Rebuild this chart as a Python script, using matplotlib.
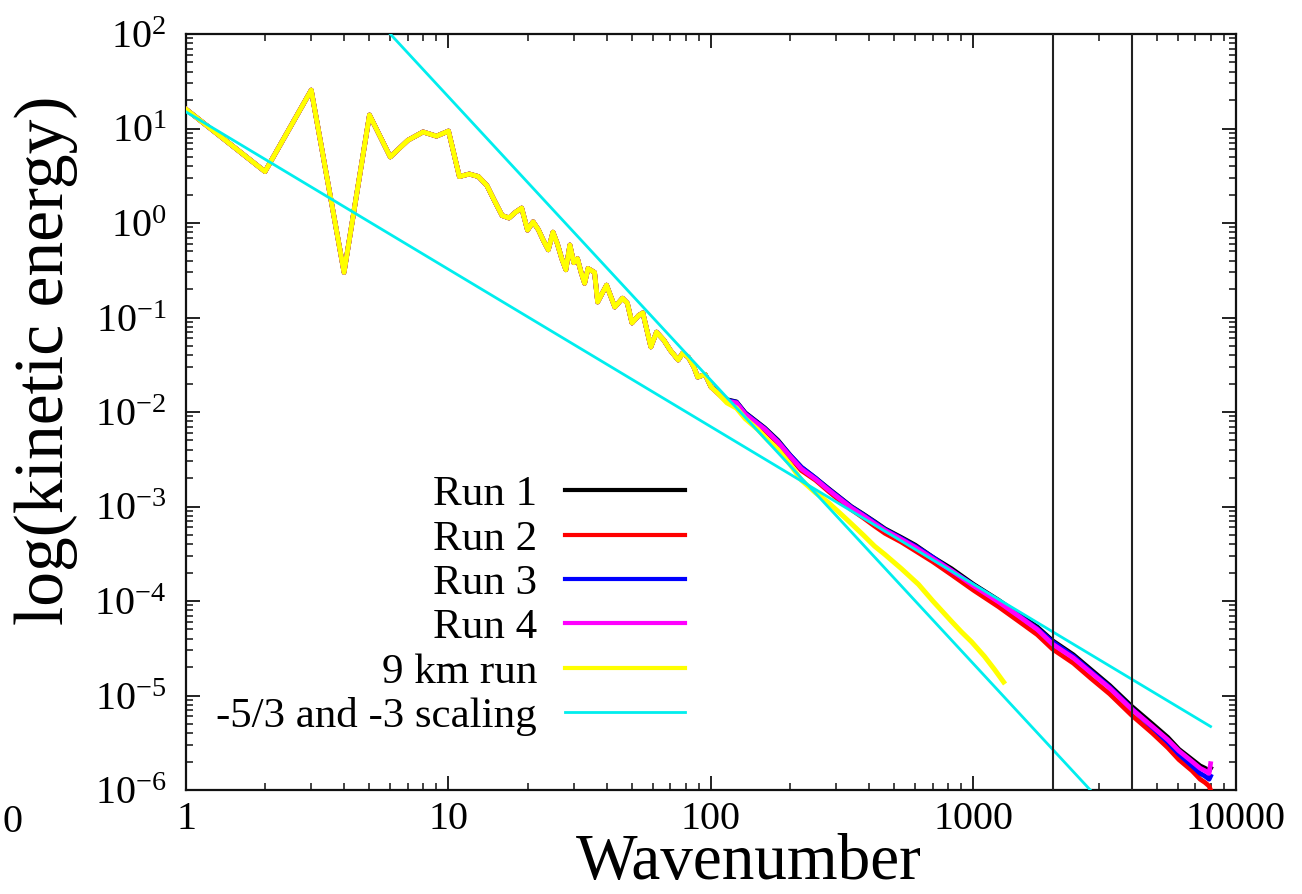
import numpy as np
import matplotlib
matplotlib.use("Agg")
import matplotlib.pyplot as plt
from matplotlib.ticker import LogLocator, FixedLocator, FixedFormatter, NullFormatter

plt.rcParams['font.family'] = ['Liberation Serif', 'DejaVu Serif']
plt.rcParams['mathtext.fontset'] = 'custom'
plt.rcParams['mathtext.rm'] = 'Liberation Serif'
plt.rcParams['mathtext.it'] = 'Liberation Serif:italic'
plt.rcParams['mathtext.bf'] = 'Liberation Serif:bold'

# ---------------- data ----------------
# low wavenumbers: all runs coincide
k_low = [1, 2, 3, 4, 5, 6, 7, 8, 9, 10, 11, 12, 13, 14, 15, 16, 17, 18, 19, 20,
         21, 22, 23, 24, 25, 26, 27, 28, 29, 30, 31, 32, 33, 34, 36, 37, 40, 43,
         46, 48, 50, 53, 55, 59, 62, 66, 70, 75, 78, 82, 86, 89, 95, 100]
E_low = [16.0, 3.5, 25.5, 0.30, 13.9, 5.0, 7.5, 9.2, 8.3, 9.4, 3.1, 3.3, 3.1, 2.5,
         1.7, 1.2, 1.13, 1.3, 1.44, 0.84, 1.03, 0.85, 0.65, 0.52, 0.80, 0.60, 0.42,
         0.32, 0.585, 0.38, 0.42, 0.30, 0.23, 0.33, 0.30, 0.146, 0.22, 0.129, 0.16,
         0.142, 0.0875, 0.105, 0.112, 0.0488, 0.070, 0.058, 0.045, 0.0355, 0.042,
         0.038, 0.030, 0.0234, 0.025, 0.0184]

# high wavenumbers for the four runs
k_hi = [106, 115, 125, 135, 142, 160, 180, 200, 221, 250, 280, 310, 342, 380, 420,
        460, 531, 600, 700, 824, 1000, 1245, 1500, 1750, 2000, 2400, 2800, 3300,
        4000, 4800, 5500, 6055, 6800, 7300, 7620, 7900, 8000]
run1_hi = [0.0165, 0.0135, 0.0128, 0.0098, 0.0088, 0.0068, 0.0050, 0.0035, 0.0026,
           0.0020, 0.00155, 0.00124, 0.00100, 0.00083, 0.00069, 0.00058, 0.00047,
           0.00039, 0.00029, 0.00022, 0.000150, 0.000102, 0.000071, 0.000053,
           0.000038, 0.000027, 0.0000188, 0.0000128, 0.0000077, 0.0000050,
           0.0000036, 0.0000027, 0.0000021, 0.0000018, 0.0000017, 0.0000016,
           0.0000017]
run2_hi = [0.0158, 0.0128, 0.0123, 0.0093, 0.0083, 0.0064, 0.0047, 0.0033, 0.0024,
           0.0019, 0.00145, 0.00115, 0.00093, 0.00076, 0.00062, 0.00052, 0.00042,
           0.00034, 0.00026, 0.000190, 0.000130, 0.000087, 0.000060, 0.000044,
           0.000031, 0.000022, 0.0000152, 0.0000104, 0.0000062, 0.0000040,
           0.0000028, 0.0000021, 0.0000016, 0.0000013, 0.0000012, 0.0000011,
           0.0000010]
run3_hi = [0.0162, 0.0133, 0.0127, 0.0097, 0.0087, 0.0067, 0.0049, 0.0035, 0.0026,
           0.0020, 0.00153, 0.00123, 0.00099, 0.00082, 0.00068, 0.00057, 0.00046,
           0.00038, 0.00029, 0.00021, 0.000147, 0.000100, 0.000069, 0.000051,
           0.000037, 0.000026, 0.0000180, 0.0000123, 0.0000073, 0.0000046,
           0.0000032, 0.0000024, 0.0000018, 0.0000015, 0.0000014, 0.0000013,
           0.0000014]
run4_hi = [0.0160, 0.0130, 0.0125, 0.0095, 0.0085, 0.0066, 0.0048, 0.0034, 0.0025,
           0.00195, 0.00150, 0.00120, 0.00097, 0.00080, 0.00066, 0.00056, 0.00045,
           0.00037, 0.00028, 0.00021, 0.000145, 0.000098, 0.000068, 0.000050,
           0.000035, 0.000025, 0.0000175, 0.0000120, 0.0000072, 0.0000047,
           0.0000034, 0.0000026, 0.0000020, 0.0000017, 0.0000016, 0.0000015,
           0.0000019]

# 9 km run (ends near k = 1300)
k_9km_hi = [106, 115, 125, 135, 151, 165, 180, 200, 221, 250, 280, 310, 342, 380,
            420, 460, 531, 617, 700, 824, 900, 983, 1100, 1200, 1302]
E_9km_hi = [0.0159, 0.0125, 0.0110, 0.0085, 0.0065, 0.0050, 0.0040, 0.0028, 0.0019,
            0.0014, 0.0011, 0.00085, 0.00066, 0.00050, 0.00038, 0.00031, 0.00022,
            0.00015, 0.000100, 0.000061, 0.000047, 0.000037, 0.000026, 0.000019,
            0.0000139]

# reference scaling lines (end points)
k_scale = [1, 8000]
E_scale_53 = [15.0, 4.7e-6]     # -5/3 slope
E_scale_3 = [21600.0, 4.22e-8]  # -3 slope

# vertical marker lines
k_marks = [2000, 4000]

labels = ['Run 1', 'Run 2', 'Run 3', 'Run 4', '9 km run', '-5/3 and -3 scaling']
colors = ['#000000', '#ff0000', '#0000ff', '#ff00ff', '#ffff00', '#00eeee']

xtick_vals = [1, 10, 100, 1000, 10000]
xtick_labels = ['1', '10', '100', '1000', '10000']
ytick_vals = [1e-6, 1e-5, 1e-4, 1e-3, 1e-2, 1e-1, 1e0, 1e1, 1e2]
ytick_labels = [r'$\mathregular{10^{-6}}$', r'$\mathregular{10^{-5}}$',
                r'$\mathregular{10^{-4}}$', r'$\mathregular{10^{-3}}$',
                r'$\mathregular{10^{-2}}$', r'$\mathregular{10^{-1}}$',
                r'$\mathregular{10^{0}}$', r'$\mathregular{10^{1}}$',
                r'$\mathregular{10^{2}}$']

# ---------------- figure ----------------
W, H = 1302, 894
fig = plt.figure(figsize=(W / 100, H / 100), dpi=100)
L, R, T, B = 186, 1236, 34, 790
ax = fig.add_axes([L / W, 1 - B / H, (R - L) / W, (B - T) / H])
ax.set_xscale('log')
ax.set_yscale('log')

runs_hi = [run1_hi, run2_hi, run3_hi, run4_hi]
for i, rh in enumerate(runs_hi):
    kk = np.concatenate([k_low, k_hi])
    ee = np.concatenate([E_low, rh])
    ax.plot(kk, ee, color=colors[i], lw=3.4, zorder=2 + i)

ax.plot(np.concatenate([k_low, k_9km_hi]), np.concatenate([E_low, E_9km_hi]),
        color=colors[4], lw=3.6, zorder=7)

ax.plot(k_scale, E_scale_53, color=colors[5], lw=2.0, zorder=8)
ax.plot(k_scale, E_scale_3, color=colors[5], lw=2.0, zorder=8)

for km in k_marks:
    ax.axvline(km, color='#222222', lw=1.5, zorder=9)

ax.set_xlim(1, 10000)
ax.set_ylim(1e-6, 1e2)

for s in ax.spines.values():
    s.set_linewidth(1.6)
    s.set_color('#111111')

ax.xaxis.set_major_locator(FixedLocator(xtick_vals))
ax.xaxis.set_major_formatter(FixedFormatter(xtick_labels))
ax.yaxis.set_major_locator(FixedLocator(ytick_vals))
ax.yaxis.set_major_formatter(FixedFormatter(ytick_labels))
ax.xaxis.set_minor_locator(LogLocator(base=10, subs=np.arange(2, 10), numticks=20))
ax.yaxis.set_minor_locator(LogLocator(base=10, subs=np.arange(2, 10), numticks=20))
ax.xaxis.set_minor_formatter(NullFormatter())
ax.yaxis.set_minor_formatter(NullFormatter())

ax.tick_params(which='both', direction='in', top=True, right=True, color='#111111')
ax.tick_params(which='major', length=10, width=1.3)
ax.tick_params(which='minor', length=5, width=1.1)
ax.tick_params(axis='x', which='major', labelsize=29, pad=8)
ax.tick_params(axis='y', which='major', labelsize=29, pad=14)

# axis titles
fig.text(749 / W, 1 - 879 / H, 'Wavenumber', ha='center', va='baseline', fontsize=47)
fig.text(46 / W, 1 - 360 / H, 'log(kinetic energy)', ha='center', va='center',
         rotation=90, fontsize=50)
fig.text(12 / W, 1 - 822 / H, '0', ha='center', va='center', fontsize=29)

# key (right-aligned text, sample line to the right)
row_y = [490, 535, 579, 623, 668, 712]
lws = [3.0, 3.0, 3.0, 3.0, 3.0, 2.0]
for lab, c, py, lw in zip(labels, colors, row_y, lws):
    fy = 1 - py / H
    fig.text(537 / W, fy, lab, ha='right', va='center_baseline', fontsize=31)
    fig.add_artist(plt.Line2D([565 / W, 685 / W], [fy, fy], color=c, lw=lw,
                              transform=fig.transFigure))

fig.savefig('out.png', dpi=100, facecolor='white')
